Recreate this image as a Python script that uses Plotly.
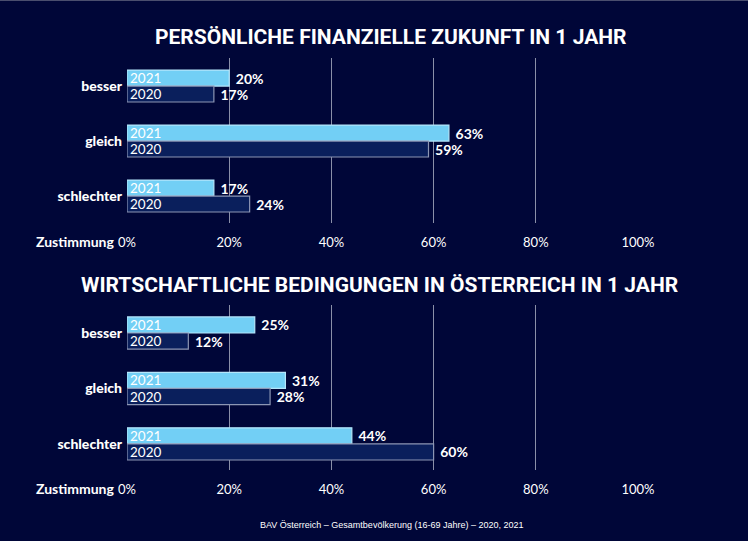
import plotly.graph_objects as go

categories = ["besser", "gleich", "schlechter"]
years = ["2021", "2020"]
top_2021 = [20, 63, 17]
top_2020 = [17, 59, 24]
bot_2021 = [25, 31, 44]
bot_2020 = [12, 28, 60]
tick_vals = [0, 20, 40, 60, 80, 100]
tick_text = ["0%", "20%", "40%", "60%", "80%", "100%"]
title_top = "PERSÖNLICHE FINANZIELLE ZUKUNFT IN 1 JAHR"
title_bot = "WIRTSCHAFTLICHE BEDINGUNGEN IN ÖSTERREICH IN 1 JAHR"
footer = "BAV Österreich – Gesamtbevölkerung (16-69 Jahre) – 2020, 2021"

BG = "#000638"
C21 = "#72cff5"
C21_LINE = "#b4e6fb"
C20 = "#0a1f5c"
C20_LINE = "#8c96b4"
GRID = "#8a8fa8"
FONT = "Lato"
W, H = 748, 541
BW = 0.29

fig = go.Figure()

def add_panel(v21, v20, xa, ya):
    for vals, yr, col, lc, off in [(v21, years[0], C21, C21_LINE, -BW), (v20, years[1], C20, C20_LINE, 0)]:
        fig.add_trace(go.Bar(
            x=vals, y=categories, orientation="h", xaxis=xa, yaxis=ya,
            width=BW, offset=off,
            marker=dict(color=col, line=dict(color=lc, width=1.2)),
            text=[yr] * len(vals), textposition="inside", insidetextanchor="start",
            textfont=dict(color="white", size=13.5, family=FONT),
            constraintext="none", hoverinfo="skip", showlegend=False,
        ))
        fig.add_trace(go.Bar(
            x=vals, y=categories, orientation="h", xaxis=xa, yaxis=ya,
            width=BW, offset=off,
            marker=dict(color="rgba(0,0,0,0)", line=dict(width=0)),
            text=[f"\u00a0<b>{v}%</b>" for v in vals], textposition="outside",
            textfont=dict(color="white", size=14, family=FONT),
            constraintext="none", cliponaxis=False, hoverinfo="skip", showlegend=False,
        ))

add_panel(top_2021, top_2020, "x", "y")
add_panel(bot_2021, bot_2020, "x2", "y2")

x0, x1 = 127, 638
xdom = [x0 / W, x1 / W]

def py(p):
    return (H - p) / H

xaxis_common = dict(
    range=[0, 100], tickvals=tick_vals, ticktext=tick_text,
    showgrid=True, gridcolor=GRID, gridwidth=1, zeroline=False,
    showline=False, ticks="", ticklabelstandoff=10,
    tickfont=dict(color="white", size=13, family=FONT),
    domain=xdom, fixedrange=True, automargin=False,
)
yaxis_common = dict(
    type="category", showgrid=False, zeroline=False, showline=False, ticks="",
    tickfont=dict(color="white", size=14, family=FONT + " Black"),
    ticklabelstandoff=4, fixedrange=True, automargin=False,
)

fig.update_layout(
    width=W, height=H, autosize=False,
    paper_bgcolor=BG, plot_bgcolor=BG,
    margin=dict(l=0, r=0, t=0, b=0, pad=0),
    barmode="overlay",
    xaxis=dict(anchor="y", **xaxis_common),
    xaxis2=dict(anchor="y2", **xaxis_common),
    yaxis=dict(anchor="x", domain=[py(223), py(58)], range=[2.49, -0.51], **yaxis_common),
    yaxis2=dict(anchor="x2", domain=[py(470), py(305)], range=[2.47, -0.505], **yaxis_common),
    font=dict(family=FONT, color="white"),
)

ann = []
for t, xp, yp in [(title_top, 391, 37), (title_bot, 379, 285)]:
    ann.append(dict(text=f"<b>{t}</b>", x=xp / W, y=py(yp), xref="paper", yref="paper",
                    xanchor="center", yanchor="middle", showarrow=False,
                    font=dict(family="Roboto", size=21, color="white")))
for yp in [241, 488]:
    ann.append(dict(text="<b>Zustimmung</b>", x=116 / W, y=py(yp), xref="paper", yref="paper",
                    xanchor="right", yanchor="middle", showarrow=False,
                    font=dict(family=FONT, size=14, color="white")))
ann.append(dict(text=footer, x=391 / W, y=py(525), xref="paper", yref="paper",
                xanchor="center", yanchor="middle", showarrow=False,
                font=dict(family="Liberation Sans", size=9, color="white")))
fig.update_layout(annotations=ann)
fig.add_shape(type="line", xref="paper", yref="paper", x0=0, x1=1, y0=1, y1=1,
              line=dict(color="#4a4e6e", width=2))

fig.write_html(
    "out.html",
    config={"responsive": False, "displayModeBar": False},
    post_script="document.body.style.margin='0';document.body.style.overflow='hidden';document.body.style.background='" + BG + "';",
)
